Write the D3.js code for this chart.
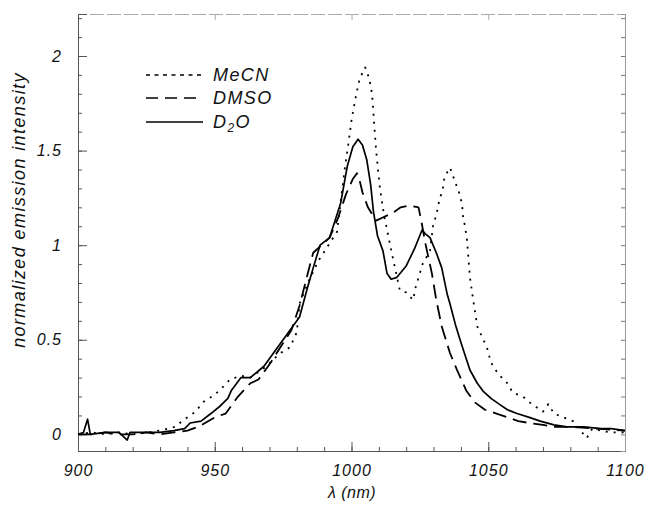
<!DOCTYPE html>
<html>
<head>
<meta charset="utf-8">
<script src="https://cdn.jsdelivr.net/npm/d3@7"></script>
<style>
    body { margin: 0; background: #fff; }
    .tick text { font-family: "Liberation Sans", Arial, sans-serif; font-style: italic; font-size: 16px; letter-spacing: 1px; fill: #111; }
    .title { font-family: "Liberation Sans", Arial, sans-serif; font-style: italic; font-size: 18px; letter-spacing: 1.4px; fill: #111; }
</style>
</head>
<body>
<div class="chart_global"></div>
<script>
// длины волн и интенсивности
const mecnNm = [900, 905, 910, 915, 920, 925, 930, 935.5, 939, 943, 945.7, 950, 952.3, 955.6, 959.6, 963, 968, 974, 977.5, 980, 981, 984, 988, 992, 994.7, 995.8, 997.5, 999, 1000, 1001.5, 1003, 1005, 1006.5, 1007.5, 1009, 1010.4, 1012, 1014, 1015, 1017.7, 1020, 1022.5, 1023.5, 1026, 1028.7, 1029.8, 1031, 1032, 1033.4, 1034, 1036, 1037.5, 1039.3, 1040.4, 1040.8, 1041.5, 1042.2, 1042.6, 1043.3, 1044.5, 1046, 1049.5, 1051, 1053.6, 1057, 1059, 1062.7, 1065, 1070, 1072, 1074, 1081, 1086, 1088, 1094.5, 1100]
const mecnI = [0.00, 0.01, 0.00, 0.01, 0.00, 0.01, 0.02, 0.04, 0.08, 0.12, 0.17, 0.21, 0.24, 0.29, 0.31, 0.30, 0.35, 0.43, 0.46, 0.54, 0.69, 0.80, 0.92, 1.01, 1.07, 1.20, 1.40, 1.55, 1.66, 1.78, 1.88, 1.94, 1.88, 1.80, 1.50, 1.30, 1.15, 1.01, 0.94, 0.76, 0.75, 0.71, 0.78, 0.90, 0.97, 1.10, 1.16, 1.23, 1.30, 1.36, 1.41, 1.35, 1.28, 1.22, 1.15, 1.10, 1.03, 0.96, 0.83, 0.71, 0.57, 0.46, 0.38, 0.32, 0.27, 0.22, 0.20, 0.17, 0.12, 0.16, 0.11, 0.07, -0.02, 0.03, 0.01, 0.01]

const dmsoNm = [900, 905, 910, 915, 920, 925, 930, 935, 940, 944, 950, 954, 958.5, 963, 966, 970.5, 974, 978, 981, 984, 986, 989, 992, 995, 998, 1000.5, 1002, 1003, 1004, 1006, 1009, 1012, 1015, 1018, 1021, 1024.5, 1025.5, 1027, 1029.4, 1031, 1033, 1036, 1038.6, 1042, 1045, 1048.8, 1053, 1057, 1061, 1065, 1070, 1074, 1080, 1090, 1100]
const dmsoI = [0.00, 0.00, 0.01, 0.00, 0.00, 0.01, 0.00, 0.01, 0.02, 0.04, 0.09, 0.11, 0.20, 0.27, 0.29, 0.38, 0.46, 0.55, 0.68, 0.85, 0.96, 1.00, 1.04, 1.14, 1.27, 1.35, 1.38, 1.34, 1.28, 1.20, 1.13, 1.15, 1.17, 1.20, 1.21, 1.20, 1.13, 1.01, 0.85, 0.71, 0.57, 0.43, 0.34, 0.23, 0.17, 0.13, 0.11, 0.09, 0.07, 0.06, 0.05, 0.04, 0.04, 0.03, 0.02]

const d2oNm = [900, 902, 903.5, 904.5, 910, 915, 918, 919, 925, 930, 935, 939, 941, 945, 948.6, 952, 954.8, 956, 959.6, 963, 968, 973, 976, 981, 984, 986, 988.5, 992, 996, 998.5, 1000.5, 1002.4, 1004, 1005.6, 1007, 1008, 1009.5, 1011.5, 1013, 1014.5, 1016.6, 1020, 1023, 1025.8, 1027, 1028.7, 1031, 1033, 1035, 1036, 1038, 1039.7, 1041.5, 1043.3, 1046, 1048, 1051, 1054, 1057, 1060.5, 1065, 1069, 1074, 1078.8, 1085, 1091, 1095, 1100]
const d2oI = [0.00, 0.01, 0.08, 0.00, 0.01, 0.01, -0.03, 0.01, 0.01, 0.01, 0.02, 0.03, 0.06, 0.07, 0.11, 0.15, 0.19, 0.23, 0.30, 0.30, 0.36, 0.46, 0.52, 0.62, 0.78, 0.88, 1.00, 1.04, 1.22, 1.42, 1.52, 1.56, 1.53, 1.45, 1.32, 1.18, 1.05, 0.97, 0.85, 0.82, 0.83, 0.89, 0.98, 1.08, 1.06, 1.04, 0.96, 0.88, 0.74, 0.69, 0.58, 0.50, 0.42, 0.34, 0.27, 0.23, 0.19, 0.16, 0.13, 0.11, 0.09, 0.07, 0.05, 0.04, 0.04, 0.03, 0.03, 0.02]

const xTicks = [900, 950, 1000, 1050, 1100]
const yTicks = [0, 0.5, 1, 1.5, 2]
const seriesNames = ['MeCN', 'DMSO', 'D2O']

// Размеры
const width = 647
const height = 506

const svg = d3.select('.chart_global')
    .append('svg')
    .attr('width', width)
    .attr('height', height)

// Шкалы
const xScale = d3.scaleLinear().domain([900, 1100]).range([78, 625])
const yScale = d3.scaleLinear().domain([-0.088, 2.222]).range([451, 14])

// минорные деления
const xMinor = d3.range(900, 1101, 10)
const yMinor = d3.range(0, 2.21, 0.1)

function styleAxis(g) {
    g.select('.domain').attr('stroke', '#555').attr('stroke-width', 1)
    g.selectAll('.tick line').attr('stroke', '#555')
}

// нижняя ось
svg.append('g')
    .attr('transform', 'translate(0,451)')
    .call(d3.axisBottom(xScale).tickValues(xMinor).tickSize(-4).tickFormat(''))
    .call(styleAxis)
svg.append('g')
    .attr('transform', 'translate(0,451)')
    .call(d3.axisBottom(xScale).tickValues(xTicks).tickSize(-9).tickPadding(14).tickFormat(d => d))
    .call(styleAxis)

// верхняя ось (бледная рамка)
svg.append('g')
    .attr('transform', 'translate(0,14)')
    .call(d3.axisTop(xScale).tickValues(xTicks).tickSize(-6).tickFormat(''))
    .call(g => {
        g.select('.domain').attr('stroke', '#aaa').attr('stroke-dasharray', '14,3')
        g.selectAll('.tick line').attr('stroke', '#aaa')
    })

// левая ось
svg.append('g')
    .attr('transform', 'translate(78,0)')
    .call(d3.axisLeft(yScale).tickValues(yMinor).tickSize(-4).tickFormat(''))
    .call(styleAxis)
svg.append('g')
    .attr('transform', 'translate(78,0)')
    .call(d3.axisLeft(yScale).tickValues(yTicks).tickSize(-9).tickPadding(16).tickFormat(d => d))
    .call(styleAxis)

// правая ось
svg.append('g')
    .attr('transform', 'translate(625,0)')
    .call(d3.axisRight(yScale).tickValues(yMinor).tickSize(-4).tickFormat(''))
    .call(g => {
        g.select('.domain').attr('stroke', '#999')
        g.selectAll('.tick line').attr('stroke', '#777')
    })

// Линии
const line = d3.line()
    .x(d => xScale(d[0]))
    .y(d => yScale(d[1]))

const series = [
    { name: seriesNames[0], data: d3.zip(mecnNm, mecnI), dash: '2,6', legendDash: '4,4.5' },
    { name: seriesNames[1], data: d3.zip(dmsoNm, dmsoI), dash: '14,7', legendDash: '12,7' },
    { name: seriesNames[2], data: d3.zip(d2oNm, d2oI), dash: null, legendDash: null }
]

svg.selectAll('.line')
    .data(series)
    .enter()
    .append('path')
    .attr('class', 'line')
    .attr('d', d => line(d.data))
    .attr('fill', 'none')
    .attr('stroke', '#000')
    .attr('stroke-width', d => d.dash ? 1.8 : 1.7)
    .attr('stroke-linejoin', 'round')
    .attr('stroke-dasharray', d => d.dash)

// Легенда
const legendY = [75, 98, 122]
const legend = svg.append('g')
series.forEach((s, i) => {
    legend.append('line')
        .attr('x1', 146).attr('x2', 203)
        .attr('y1', legendY[i]).attr('y2', legendY[i])
        .attr('stroke', '#000')
        .attr('stroke-width', 1.5)
        .attr('stroke-dasharray', s.legendDash)
    const t = legend.append('text')
        .attr('class', 'title')
        .attr('x', 213)
        .attr('y', legendY[i] + 6)
    if (s.name === 'D2O') {
        t.append('tspan').text('D')
        t.append('tspan').attr('dy', 4).attr('font-size', 12).text('2')
        t.append('tspan').attr('dy', -4).text('O')
    } else {
        t.text(s.name)
    }
})

// Подписи осей
svg.append('text')
    .attr('class', 'title')
    .attr('text-anchor', 'middle')
    .attr('transform', 'translate(25,210) rotate(-90)')
    .text('normalized emission intensity')

svg.append('text')
    .attr('class', 'title')
    .attr('text-anchor', 'middle')
    .attr('x', 352)
    .attr('y', 498)
    .style('font-size', '16px')
    .style('letter-spacing', '0.5px')
    .text('λ (nm)')
</script>
</body>
</html>
